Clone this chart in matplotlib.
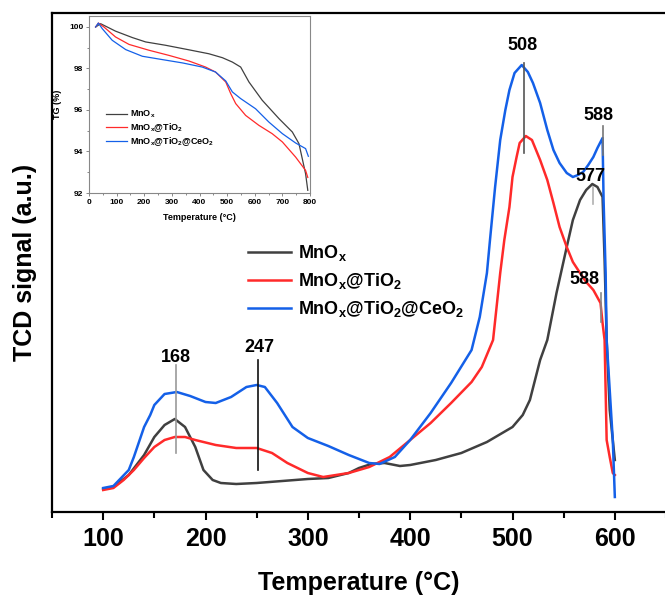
import matplotlib
matplotlib.use('Agg')
import matplotlib.pyplot as plt
from matplotlib.ticker import MultipleLocator

plt.rcParams['font.family'] = ['Liberation Sans', 'DejaVu Sans']
plt.rcParams['font.weight'] = 'bold'
plt.rcParams['mathtext.fontset'] = 'custom'
plt.rcParams['mathtext.rm'] = 'Liberation Sans:bold'
plt.rcParams['mathtext.it'] = 'Liberation Sans:bold'
plt.rcParams['mathtext.bf'] = 'Liberation Sans:bold'

# H2-TPR curves (TCD signal, arbitrary units)
temp_mnox = [100, 110, 125, 140, 150, 160, 170, 180, 190, 198, 207, 215, 230, 250, 275, 300, 320,
             340, 350, 362, 375, 390, 400, 425, 450, 475, 500, 510, 517, 527, 534, 543, 553, 559,
             566, 572, 578, 583, 588, 590, 592, 595, 600]
tcd_mnox = [0.23, 0.25, 0.37, 0.57, 0.75, 0.87, 0.93, 0.85, 0.65, 0.42, 0.32, 0.29, 0.28, 0.29, 0.31,
            0.33, 0.34, 0.39, 0.44, 0.48, 0.49, 0.46, 0.47, 0.52, 0.59, 0.70, 0.85, 0.97, 1.12, 1.52,
            1.72, 2.19, 2.65, 2.92, 3.12, 3.22, 3.28, 3.25, 3.15, 2.52, 1.72, 1.02, 0.52]

temp_ti = [100, 110, 120, 130, 140, 150, 160, 170, 180, 190, 210, 230, 250, 265, 280, 300, 315, 340,
           360, 380, 400, 420, 440, 460, 470, 481, 488, 492, 497, 500, 504, 507, 513, 519, 527, 534,
           540, 546, 553, 559, 566, 572, 579, 586, 588, 590, 592, 595, 598, 600]
tcd_ti = [0.22, 0.24, 0.32, 0.42, 0.54, 0.65, 0.72, 0.75, 0.75, 0.72, 0.67, 0.64, 0.64, 0.59, 0.49,
          0.39, 0.35, 0.39, 0.45, 0.55, 0.72, 0.89, 1.09, 1.30, 1.45, 1.72, 2.39, 2.72, 3.05, 3.35,
          3.55, 3.69, 3.76, 3.72, 3.52, 3.32, 3.09, 2.85, 2.65, 2.50, 2.39, 2.30, 2.22, 2.09, 1.89,
          1.72, 0.72, 0.55, 0.39, 0.37]

temp_ce = [100, 110, 125, 130, 140, 146, 150, 160, 172, 185, 200, 210, 225, 240, 250, 258, 270, 285,
           300, 320, 340, 360, 370, 385, 400, 420, 440, 460, 468, 475, 478, 483, 488, 493, 497, 502,
           509, 515, 520, 527, 534, 540, 546, 553, 559, 564, 569, 574, 579, 583, 588, 589, 591, 592,
           598, 600]
tcd_ce = [0.24, 0.26, 0.42, 0.55, 0.85, 0.97, 1.07, 1.18, 1.20, 1.16, 1.10, 1.09, 1.15, 1.25, 1.27,
          1.25, 1.09, 0.85, 0.74, 0.66, 0.57, 0.49, 0.48, 0.55, 0.72, 0.99, 1.29, 1.62, 1.95, 2.39,
          2.72, 3.25, 3.72, 4.02, 4.22, 4.39, 4.47, 4.40, 4.29, 4.09, 3.82, 3.62, 3.49, 3.39, 3.35,
          3.37, 3.40, 3.47, 3.55, 3.64, 3.74, 3.12, 2.39, 1.72, 0.72, 0.15]

# TG curves for the inset
tg_temp_mnox = [24, 42, 96, 157, 205, 277, 362, 434, 483, 519, 549, 579, 627, 688, 736, 760, 784, 792]
tg_mnox = [100.0, 100.16, 99.8, 99.49, 99.28, 99.12, 98.9, 98.71, 98.52, 98.31, 98.07, 97.35, 96.47,
           95.58, 94.94, 94.38, 92.93, 92.13]
tg_temp_ti = [24, 34, 54, 96, 145, 217, 290, 362, 422, 458, 495, 513, 531, 567, 615, 663, 700, 748,
              784, 792]
tg_ti = [100.0, 100.19, 100.0, 99.52, 99.16, 98.88, 98.63, 98.36, 98.07, 97.83, 97.35, 96.79, 96.31,
         95.74, 95.26, 94.86, 94.46, 93.73, 93.09, 92.75]
tg_temp_ce = [24, 34, 48, 84, 133, 193, 265, 338, 410, 458, 495, 519, 549, 603, 651, 700, 748, 784, 794]
tg_ce = [100.0, 100.19, 99.92, 99.36, 98.91, 98.59, 98.43, 98.27, 98.07, 97.83, 97.4, 96.87, 96.55,
         96.06, 95.42, 94.86, 94.41, 94.14, 93.77]

labels = ['MnO$_{\\mathrm{x}}$', 'MnO$_{\\mathrm{x}}$@TiO$_{\\mathrm{2}}$',
          'MnO$_{\\mathrm{x}}$@TiO$_{\\mathrm{2}}$@CeO$_{\\mathrm{2}}$']
colors = ['#404040', '#ff2a2a', '#1460e8']

# peak labels: text, text position, marker line x, marker line y range, line colour
peak_text = ['168', '247', '508', '588', '577', '588']
peak_text_xy = [(171.4, 1.55), (253, 1.64), (510, 4.67), (583.5, 3.97), (576.6, 3.36), (570.7, 2.33)]
peak_line_x = [171.3, 251.4, 511, 588.3, 578.5, 586.3]
peak_line_y = [(0.59, 1.47), (0.42, 1.52), (3.59, 4.49), (3.57, 3.86), (3.08, 3.25), (1.90, 2.19)]
peak_line_c = ['#9a9a9a', '#111111', '#555555', '#777777', '#b0b0b0', '#888888']

fig = plt.figure(figsize=(6.65, 5.96), dpi=100)
ax = fig.add_axes([52 / 665, 84 / 596, 614 / 665, 499 / 596])

for t, s, lab, c in zip([temp_mnox, temp_ti, temp_ce], [tcd_mnox, tcd_ti, tcd_ce], labels, colors):
    ax.plot(t, s, color=c, lw=1.8, label=lab)

for txt, (tx, ty), lx, (y0, y1), lc in zip(peak_text, peak_text_xy, peak_line_x, peak_line_y, peak_line_c):
    ax.plot([lx, lx], [y0, y1], color=lc, lw=1.2)
    ax.text(tx, ty, txt, fontsize=13, fontweight='bold', ha='center', va='center')

ax.set_xlim(50, 650)
ax.set_ylim(0, 4.99)
ax.set_yticks([])
ax.xaxis.set_minor_locator(MultipleLocator(50))
ax.set_xticks([100, 200, 300, 400, 500, 600])
ax.tick_params(axis='x', which='major', direction='out', length=6, width=1.5, pad=5, labelsize=18)
ax.tick_params(axis='x', which='minor', direction='out', length=4, width=1.5)
for side in ['left', 'bottom', 'top']:
    ax.spines[side].set_linewidth(1.6)
ax.spines['right'].set_visible(False)
ax.set_xlabel('Temperature (°C)', fontsize=18, fontweight='bold', labelpad=14)
ax.set_ylabel('TCD signal (a.u.)', fontsize=18, fontweight='bold', labelpad=11)

ax.legend(loc='upper left', bbox_to_anchor=(248 / 665, 1 - 243 / 596), bbox_transform=fig.transFigure,
          frameon=False, fontsize=13, handlelength=2.4, handletextpad=0.35, labelspacing=0.45,
          borderpad=0, borderaxespad=0)

# TG inset
ins = fig.add_axes([89 / 665, 403 / 596, 221 / 665, 177 / 596])
for t, g, lab, c in zip([tg_temp_mnox, tg_temp_ti, tg_temp_ce], [tg_mnox, tg_ti, tg_ce], labels, colors):
    ins.plot(t, g, color=c, lw=0.9, label=lab)
ins.set_xlim(0, 800)
ins.set_ylim(92, 100.53)
ins.xaxis.set_major_locator(MultipleLocator(100))
ins.xaxis.set_minor_locator(MultipleLocator(50))
ins.yaxis.set_major_locator(MultipleLocator(2))
ins.yaxis.set_minor_locator(MultipleLocator(1))
ins.tick_params(which='both', direction='out', color='#888888', width=0.7, labelsize=6, pad=1.5)
ins.tick_params(which='major', length=2.5)
ins.tick_params(which='minor', length=1.5)
for sp in ins.spines.values():
    sp.set_color('#888888')
    sp.set_linewidth(0.8)
ins.set_xlabel('Temperature (°C)', fontsize=6.5, fontweight='bold', labelpad=5)
ins.set_ylabel('TG (%)', fontsize=6.5, fontweight='bold', labelpad=5)
ins.legend(loc='upper left', bbox_to_anchor=(106 / 665, 1 - 109 / 596), bbox_transform=fig.transFigure,
           frameon=False, fontsize=6.5, handlelength=2.3, handletextpad=0.4, labelspacing=0.12,
           borderpad=0, borderaxespad=0)

fig.savefig('out.png', dpi=100)
